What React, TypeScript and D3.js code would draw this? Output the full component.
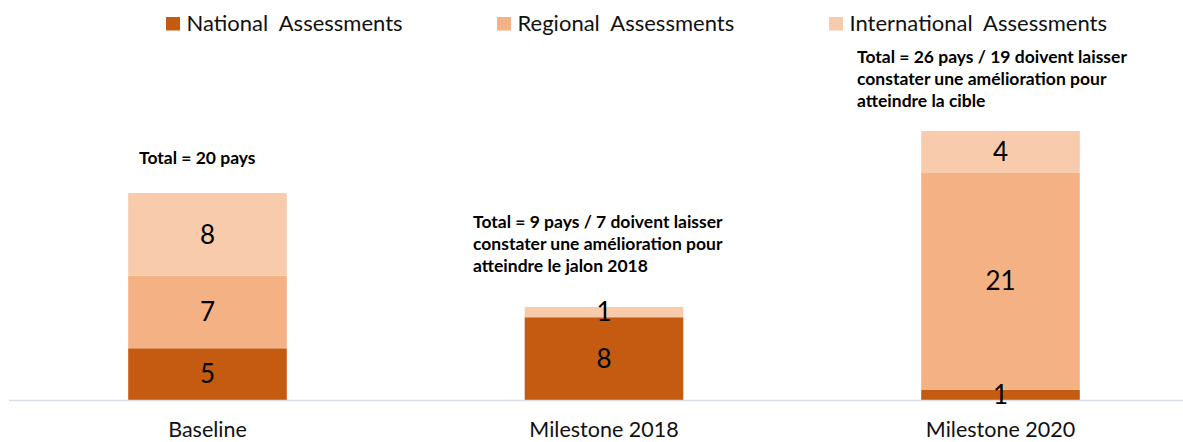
import React from "react";
import * as d3 from "d3";

const categories = ["Baseline", "Milestone 2018", "Milestone 2020"];
const seriesNames = ["National  Assessments", "Regional  Assessments", "International  Assessments"];
const national = [5, 8, 1];
const regional = [7, 0, 21];
const international = [8, 1, 4];
const colors = ["#C55A11", "#F4B183", "#F8CBAD"];
const annotations = [
  ["Total = 20 pays"],
  ["Total = 9 pays / 7 doivent laisser", "constater une amélioration pour", "atteindre le jalon 2018"],
  ["Total = 26 pays / 19 doivent laisser", "constater une amélioration pour", "atteindre la cible"],
];

const W = 1183;
const H = 442;
const FONT = "Lato, 'Open Sans', sans-serif";

export default function App() {
  const rows = categories.map((c, i) => ({
    cat: c,
    s0: national[i],
    s1: regional[i],
    s2: international[i],
  }));
  const stack = d3.stack<any>().keys(["s0", "s1", "s2"]);
  const layers = stack(rows);

  const x = d3.scaleBand().domain(categories).range([9.25, 1198.75]).paddingInner(0.6).paddingOuter(0.3);
  const y = d3.scaleLinear().domain([0, 26]).range([400, 131]);

  const legendX = [166, 497, 829];
  const annLeft = [139, 473, 857];
  const annTop = [164, 228, 63];

  return (
    <svg width={W} height={H} style={{ position: "absolute", left: 0, top: 0 }} fontFamily={FONT}>
      <rect width={W} height={H} fill="#fff" />
      {/* legend */}
      {seriesNames.map((n, i) => (
        <g key={n}>
          <rect x={legendX[i]} y={17} width={14} height={13.5} fill={colors[i]} />
          <text x={legendX[i] + 20.5} y={31} fontSize={22} fill="#111" style={{ whiteSpace: "pre" }}>
            {n}
          </text>
        </g>
      ))}
      {/* bars */}
      {layers.map((layer, li) => (
        <g key={li}>
          {layer.map((d, i) => {
            const v = d[1] - d[0];
            if (v <= 0) return null;
            return (
              <rect
                key={i}
                x={x(categories[i])}
                y={y(d[1])}
                width={x.bandwidth()}
                height={y(d[0]) - y(d[1])}
                fill={colors[li]}
              />
            );
          })}
        </g>
      ))}
      {/* axis line */}
      <line x1={9} x2={W} y1={400.5} y2={400.5} stroke="#D9DEE8" strokeWidth={1.5} />
      {/* value labels */}
      {layers.map((layer, li) => (
        <g key={"l" + li}>
          {layer.map((d, i) => {
            const v = d[1] - d[0];
            if (v <= 0) return null;
            return (
              <text
                key={i}
                x={(x(categories[i]) as number) + x.bandwidth() / 2}
                y={(y(d[0]) + y(d[1])) / 2}
                dy="0.36em"
                textAnchor="middle"
                fontSize={26}
                fill="#000"
              >
                {v}
              </text>
            );
          })}
        </g>
      ))}
      {/* category labels */}
      {categories.map((c) => (
        <text key={c} x={(x(c) as number) + x.bandwidth() / 2} y={437} textAnchor="middle" fontSize={21.5} fill="#111">
          {c}
        </text>
      ))}
      {/* annotations */}
      {annotations.map((lines, i) => (
        <text key={i} x={annLeft[i]} y={annTop[i]} fontSize={17.5} fontWeight="bold" fill="#000">
          {lines.map((l, j) => (
            <tspan key={j} x={annLeft[i]} dy={j === 0 ? 0 : 22}>
              {l}
            </tspan>
          ))}
        </text>
      ))}
    </svg>
  );
}
